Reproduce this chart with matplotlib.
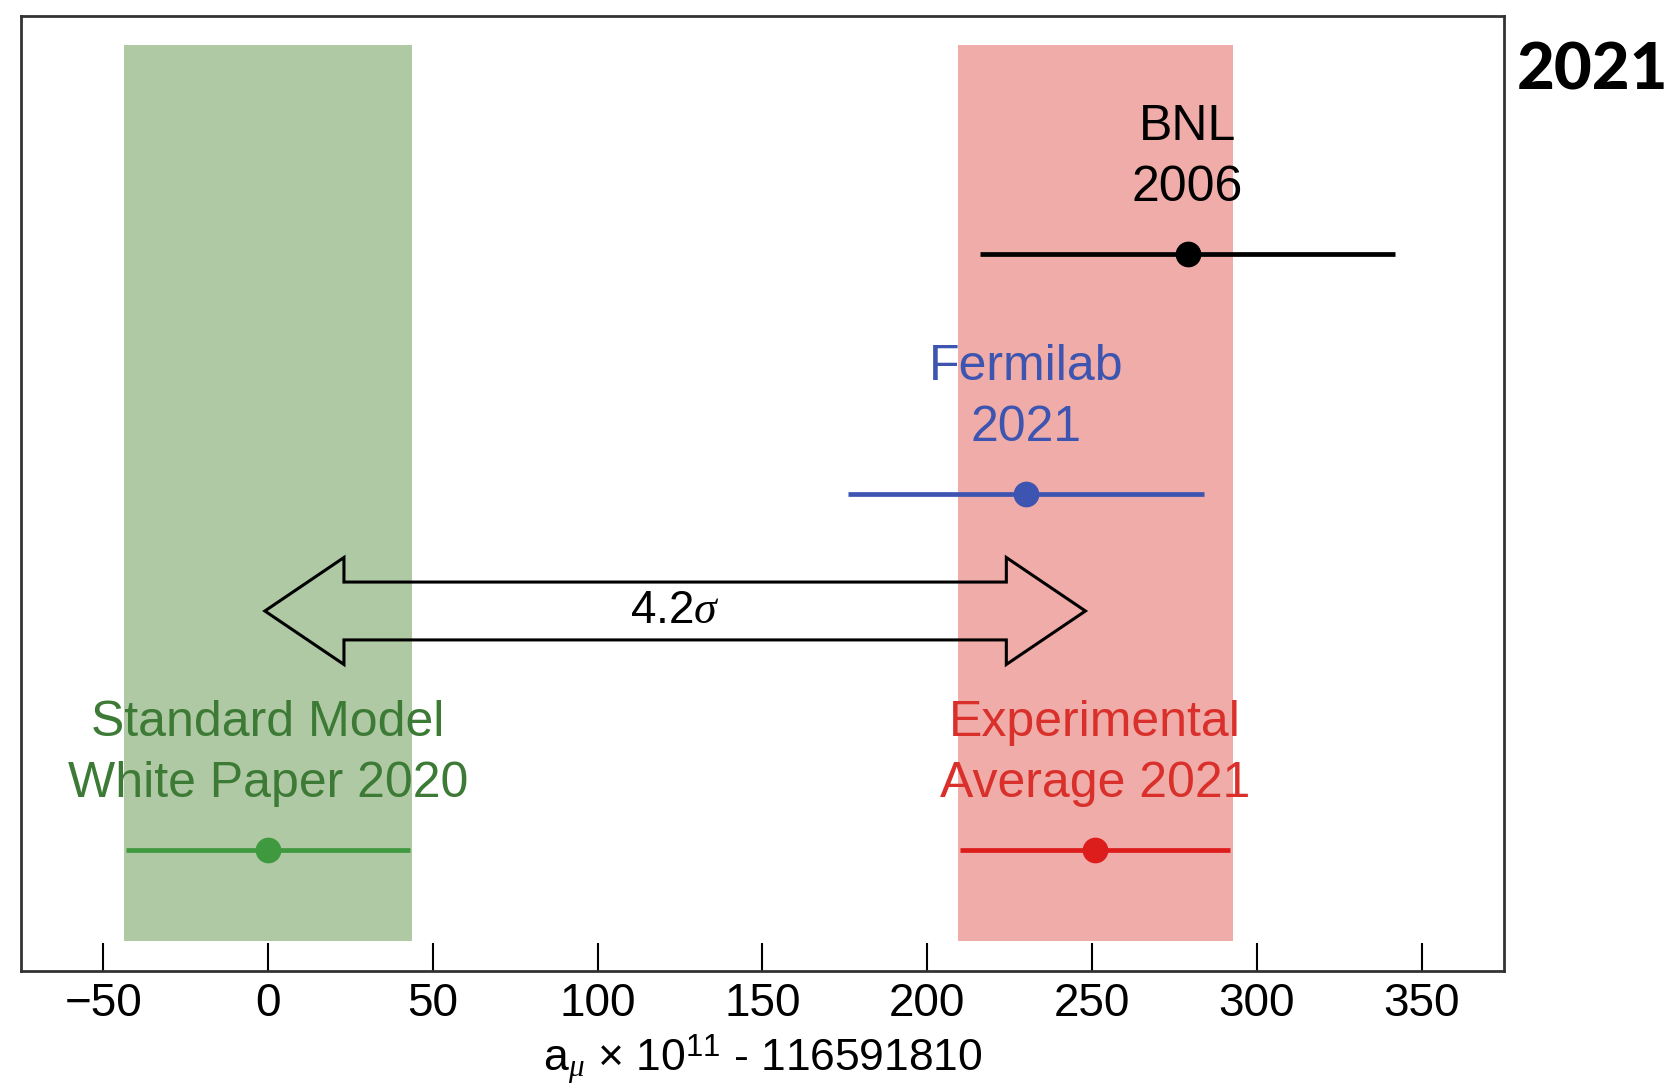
import numpy as np
import matplotlib
matplotlib.use('Agg')
import matplotlib.pyplot as plt
from matplotlib.patches import Polygon

plt.rcParams['font.family'] = ['Liberation Sans', 'DejaVu Sans']
plt.rcParams['mathtext.fontset'] = 'custom'
plt.rcParams['mathtext.it'] = 'Liberation Serif:italic'
plt.rcParams['mathtext.rm'] = 'Liberation Sans'

# a_mu x 10^11 - 116591810
names = ['BNL\n2006', 'Fermilab\n2021', 'Experimental\nAverage 2021', 'Standard Model\nWhite Paper 2020']
values = [279, 230, 251, 0]
errors = [63, 54, 41, 43]
rows = [0.751, 0.4995, 0.1268, 0.1268]
line_colors = ['#000000', '#3d55b0', '#dd1c1c', '#3f993f']
text_colors = ['#000000', '#3d55b0', '#d9302c', '#3c7a36']

sm_val, sm_err = values[3], errors[3]
exp_val, exp_err = values[2], errors[2]
tension = '4.2'

xticks = [-50, 0, 50, 100, 150, 200, 250, 300, 350]

fig = plt.figure(figsize=(16.8, 10.83), dpi=100)
ax = fig.add_axes([0.0125, 0.1034, 0.8827, 0.8818])
ax.set_xlim(-75, 375)
ax.set_ylim(0, 1)

# uncertainty bands
band_lo, band_hi = 0.0314, 0.9697
ax.fill_between([sm_val - sm_err - 0.8, sm_val + sm_err + 0.8], band_lo, band_hi,
                color='#afc9a5', lw=0, zorder=0)
ax.fill_between([exp_val - exp_err - 0.8, exp_val + exp_err + 0.8], band_lo, band_hi,
                color='#efaca8', lw=0, zorder=0)

for name, v, e, y, lc, tc in zip(names, values, errors, rows, line_colors, text_colors):
    ax.errorbar(v, y, xerr=e, fmt='o', color=lc, ms=17.5, elinewidth=3.4,
                capsize=0, zorder=3)
    ax.text(v, y + 0.045, name, color=tc, ha='center', va='bottom',
            fontsize=36, linespacing=1.42, zorder=4)

# hollow double arrow between SM and experimental average
yc = 0.377
shaft = 0.0303
head = 0.056
hl = 24
x0, x1 = sm_val - 1, exp_val - 3
pts = np.array([
    [x0, yc], [x0 + hl, yc + head], [x0 + hl, yc + shaft],
    [x1 - hl, yc + shaft], [x1 - hl, yc + head], [x1, yc],
    [x1 - hl, yc - head], [x1 - hl, yc - shaft], [x0 + hl, yc - shaft],
    [x0 + hl, yc - head],
])
ax.add_patch(Polygon(pts, closed=True, fill=False, ec='black', lw=2.2,
                     joinstyle='miter', zorder=5))
ax.text((x0 + x1) / 2, yc, tension + r'$\sigma$', ha='center', va='center',
        fontsize=33, zorder=6)

ax.set_xticks(xticks)
ax.set_xticklabels([str(t).replace('-', '\u2212') for t in xticks])
ax.tick_params(axis='x', direction='in', length=20, width=1.5, labelsize=33,
               pad=8)
ax.set_yticks([])
for s in ax.spines.values():
    s.set_linewidth(2)
    s.set_color('#333333')

ax.set_xlabel(r'a$_{\mu}$ $\times$ 10$^{11}$ - 116591810', fontsize=32,
              labelpad=4)

fig.text(0.948, 0.934, '2021', ha='center', va='center', fontsize=47,
         fontweight='black', family=['Lato', 'DejaVu Sans'])

fig.savefig('out.png', dpi=100)
